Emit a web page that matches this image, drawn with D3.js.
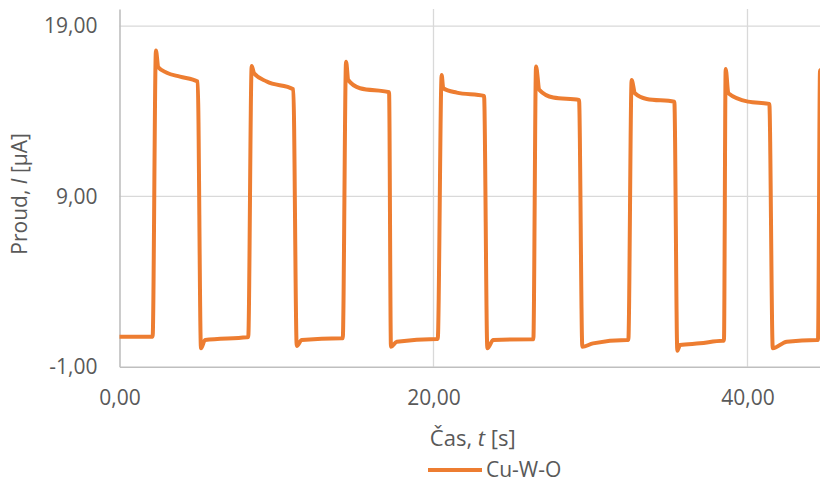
<!DOCTYPE html>
<html>
<head>
<meta charset="utf-8">
<script src="https://cdn.jsdelivr.net/npm/d3@7"></script>
<style>
  html, body { margin: 0; padding: 0; background: #fff; }
  svg { display: block; font-family: "Open Sans", "Liberation Sans", sans-serif; }
</style>
</head>
<body>
<svg id="chart" width="820" height="482"></svg>
<script>
// Photocurrent response of the Cu-W-O film under chopped illumination
const seriesName = "Cu-W-O";

// time [s]
const timeS = [
  0, 2.11, 2.32, 2.47, 3.01, 3.85, 4.98, 5.19, 5.45, 8.10,
  8.20, 8.42, 8.57, 9.38, 11.07, 11.29, 11.61, 14.15,
  14.22, 14.43, 14.57, 15.32, 17.17, 17.29, 17.66, 20.20,
  20.27, 20.52, 20.62, 21.48, 23.22, 23.43, 23.81, 26.32,
  26.36, 26.53, 26.74, 27.63, 29.27, 29.48, 30.16, 32.31,
  32.41, 32.62, 32.83, 33.58, 35.34, 35.53, 35.70, 36.97, 38.42,
  38.50, 38.61, 38.78, 40.03, 41.39, 41.61, 42.50, 44.43,
  44.49, 44.62, 44.80, 45.00
];

// current [µA]
const currentUA = [
  0.76, 0.76, 17.56, 16.58, 16.26, 16.03, 15.74, 0.08, 0.57, 0.73,
  0.74, 16.66, 16.23, 15.74, 15.29, 0.22, 0.57, 0.67,
  0.67, 16.91, 15.83, 15.35, 15.11, 0.17, 0.47, 0.63,
  0.63, 16.13, 15.35, 15.09, 14.90, 0.08, 0.57, 0.61,
  0.61, 16.62, 15.25, 14.80, 14.66, 0.17, 0.37, 0.57,
  0.57, 15.83, 15.05, 14.72, 14.56, -0.06, 0.27, 0.37, 0.53,
  0.53, 16.48, 15.05, 14.56, 14.43, 0.08, 0.47, 0.57,
  0.57, 16.40, 15.30, 15.10
];

const xTicks = [0, 20, 40];
const yTicks = [-1, 9, 19];
const xDomain = [0, 45];
const yDomain = [-1, 20];

const data = timeS.map((t, i) => ({ t, v: currentUA[i] }));

const svg = d3.select("#chart");
const plotLeft = 119.5, plotRight = 826, plotTop = 9, plotBottom = 366.7;

const x = d3.scaleLinear().domain(xDomain).range([plotLeft, plotRight]);
const y = d3.scaleLinear().domain(yDomain).range([plotBottom, plotTop]);

const cz = d3.formatLocale({
  decimal: ",", thousands: "\u00a0", grouping: [3],
  currency: ["", " Kč"], minus: "-"
});
const fmt = cz.format(".2f");

const textColor = "#595959";
const gridColor = "#d9d9d9";
const axisColor = "#bfbfbf";
const lineColor = "#ED7D31";

// gridlines
svg.append("g")
  .selectAll("line")
  .data(yTicks.filter(d => d !== yDomain[0]))
  .join("line")
  .attr("x1", plotLeft).attr("x2", plotRight)
  .attr("y1", d => y(d)).attr("y2", d => y(d))
  .attr("stroke", gridColor).attr("stroke-width", 1.3);

svg.append("g")
  .selectAll("line")
  .data(xTicks.filter(d => d !== xDomain[0]))
  .join("line")
  .attr("x1", d => x(d)).attr("x2", d => x(d))
  .attr("y1", plotTop).attr("y2", plotBottom)
  .attr("stroke", gridColor).attr("stroke-width", 1.3);

// axes
const yAxis = svg.append("g")
  .attr("transform", `translate(${plotLeft},0)`)
  .call(d3.axisLeft(y).tickValues(yTicks).tickFormat(fmt).tickSize(0).tickPadding(22));
yAxis.select(".domain").attr("stroke", axisColor).attr("stroke-width", 1.6);
yAxis.selectAll("text")
  .attr("fill", textColor).attr("font-size", 21)
  .attr("font-family", "'Open Sans', sans-serif");

const xAxis = svg.append("g")
  .attr("transform", `translate(0,${plotBottom})`)
  .call(d3.axisBottom(x).tickValues(xTicks).tickFormat(fmt).tickSize(0));
xAxis.select(".domain").attr("stroke", axisColor).attr("stroke-width", 1.6);
xAxis.selectAll("text")
  .attr("y", 38.5).attr("dy", 0)
  .attr("fill", textColor).attr("font-size", 21)
  .attr("font-family", "'Open Sans', sans-serif");

// data line
svg.append("clipPath").attr("id", "plotClip")
  .append("rect")
  .attr("x", plotLeft).attr("y", plotTop - 6)
  .attr("width", plotRight - plotLeft).attr("height", plotBottom - plotTop + 12);

const line = d3.line()
  .x(d => x(d.t))
  .y(d => y(d.v))
  .curve(d3.curveMonotoneX);

svg.append("path")
  .datum(data)
  .attr("clip-path", "url(#plotClip)")
  .attr("d", line)
  .attr("fill", "none")
  .attr("stroke", lineColor)
  .attr("stroke-width", 4)
  .attr("stroke-linejoin", "round")
  .attr("stroke-linecap", "round");

// axis titles
const yTitle = svg.append("text")
  .attr("transform", `translate(27,${(plotTop + plotBottom) / 2 + 6}) rotate(-90)`)
  .attr("text-anchor", "middle")
  .attr("fill", textColor).attr("font-size", 21);
yTitle.append("tspan").text("Proud, ");
yTitle.append("tspan").attr("font-style", "italic").text("I");
yTitle.append("tspan").text(" [µA]");

const xTitle = svg.append("text")
  .attr("x", (plotLeft + plotRight) / 2).attr("y", 446)
  .attr("text-anchor", "middle")
  .attr("fill", textColor).attr("font-size", 22);
xTitle.append("tspan").text("Čas, ");
xTitle.append("tspan").attr("font-style", "italic").text("t");
xTitle.append("tspan").text(" [s]");

// legend
const legend = svg.append("g").attr("transform", "translate(428,470)");
legend.append("line")
  .attr("x1", 0).attr("x2", 54).attr("y1", 0).attr("y2", 0)
  .attr("stroke", lineColor).attr("stroke-width", 4);
legend.append("text")
  .attr("x", 58).attr("y", 7)
  .attr("fill", textColor).attr("font-size", 21)
  .text(seriesName);
</script>
</body>
</html>
